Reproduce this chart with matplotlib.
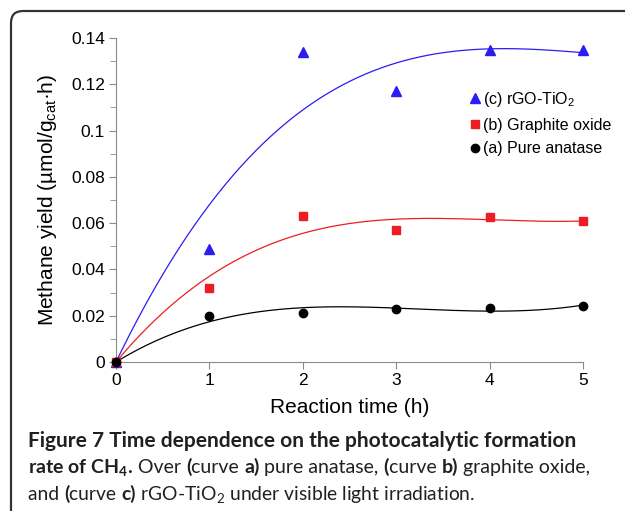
import numpy as np
import matplotlib
matplotlib.use('Agg')
import matplotlib.pyplot as plt
from matplotlib.patches import FancyBboxPatch
from matplotlib.transforms import IdentityTransform

plt.rcParams['font.family'] = ['Liberation Sans', 'DejaVu Sans']
plt.rcParams['mathtext.default'] = 'regular'

# data
time_h = [0, 1, 2, 3, 4, 5]
anatase = [0.0, 0.020, 0.021, 0.023, 0.0235, 0.024]
graphite_oxide = [0.0, 0.032, 0.063, 0.057, 0.0625, 0.061]
rgo_tio2 = [0.0, 0.049, 0.134, 0.117, 0.135, 0.135]

series = [
    ('(c) rGO-TiO$_2$', rgo_tio2, '#2b1cf5', '^', 7),
    ('(b) Graphite oxide', graphite_oxide, '#ee1d23', 's', 6),
    ('(a) Pure anatase', anatase, 'black', 'o', 6),
]


def trend(x, y, xs):
    # cubic trend line through the origin
    x = np.asarray(x, float)
    A = np.vstack([x, x**2, x**3]).T
    coef = np.linalg.lstsq(A, np.asarray(y), rcond=None)[0]
    return coef[0] * xs + coef[1] * xs**2 + coef[2] * xs**3


fig = plt.figure(figsize=(6.25, 5.11), dpi=100)
ax = fig.add_axes([0.1856, 0.2916, 0.7472, 0.634])

xs = np.linspace(0, 5, 300)
for label, vals, col, mk, ms in series:
    ax.plot(xs, trend(time_h, vals, xs), color=col, lw=0.9)
    ax.plot(time_h, vals, ls='none', marker=mk, color=col, ms=ms,
            label=label, clip_on=False, zorder=3)

ax.set_xlim(0, 5)
ax.set_ylim(0, 0.14)
ax.set_xticks(range(6))
ax.set_yticks(np.arange(0, 0.141, 0.02))
ax.set_yticklabels(['0', '0.02', '0.04', '0.06', '0.08', '0.1', '0.12', '0.14'])
ax.set_yticks(np.arange(0, 0.141, 0.01), minor=True)
for s in ['top', 'right']:
    ax.spines[s].set_visible(False)
for s in ['left', 'bottom']:
    ax.spines[s].set_color('#8a8a8a')
ax.tick_params(which='major', length=5, color='#8a8a8a', labelsize=12.5, pad=3)
ax.tick_params(which='minor', length=4, color='#8a8a8a')
ax.set_xlabel('Reaction time (h)', fontsize=15, labelpad=7)
ax.set_ylabel('Methane yield (\u00b5mol/g$_{cat}$\u00b7h)', fontsize=15, labelpad=9)

ax.legend(loc='upper left', bbox_to_anchor=(0.745, 0.86), frameon=False,
          fontsize=11.5, handlelength=0.6, handletextpad=0.2, labelspacing=0.55,
          borderaxespad=0)

# rounded frame around the figure panel
frame = FancyBboxPatch((11, -40), 700, 540, boxstyle='round,pad=0,rounding_size=12',
                       transform=IdentityTransform(), fill=False, ec='#333333',
                       lw=1.6, figure=fig)
fig.patches.append(frame)

# caption with mixed weights, sized to the reference line widths
cap_font = ['Lato', 'DejaVu Sans']
cap_col = '#231f20'
rend = fig.canvas.get_renderer()


def rich_line(x, y, parts, width, size=14):
    def draw(sz):
        out, xx = [], x
        for txt, bold in parts:
            t = fig.text(xx, y, txt, transform=IdentityTransform(), fontsize=sz,
                         family=cap_font, color=cap_col, va='baseline',
                         fontweight='bold' if bold else 'normal')
            xx += t.get_window_extent(rend).width
            out.append(t)
        return out, xx - x
    texts, w = draw(size)
    for t in texts:
        t.remove()
    draw(size * width / w)


H = 511
rich_line(28, H - 447, [('Figure 7 Time dependence on the photocatalytic formation', True)], 550)
rich_line(28, H - 473, [('rate of CH$_4$.', True), (' Over ', False), ('(', True),
                        ('curve ', False), ('a)', True), (' pure anatase, ', False),
                        ('(', True), ('curve ', False), ('b)', True),
                        (' graphite oxide,', False)], 564)
rich_line(28, H - 500, [('and ', False), ('(', True), ('curve ', False), ('c)', True),
                        (' rGO-TiO$_2$ under visible light irradiation.', False)], 449)

fig.savefig('out.png', dpi=100)
